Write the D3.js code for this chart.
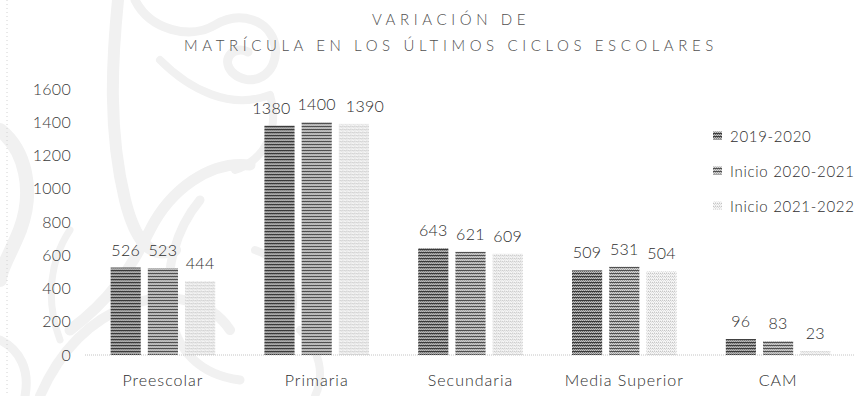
<!DOCTYPE html>
<html>
<head>
<meta charset="utf-8">
<script src="https://cdn.jsdelivr.net/npm/d3@7"></script>
<style>
  html, body { margin: 0; padding: 0; background: #fff; }
  svg { display: block; }
  text { font-family: Lato, "Noto Sans", sans-serif; font-weight: 300; fill: #2e2e2e; }
</style>
</head>
<body>
<svg id="chart" width="863" height="396"></svg>
<script>
// Enrolment per school level, three school years
const categories = ["Preescolar", "Primaria", "Secundaria", "Media Superior", "CAM"];
const seriesNames = ["2019-2020", "Inicio 2020-2021", "Inicio 2021-2022"];
const values2019 = [526, 1380, 643, 509, 96];
const values2020 = [523, 1400, 621, 531, 83];
const values2021 = [444, 1390, 609, 504, 23];
const yTicks = [0, 200, 400, 600, 800, 1000, 1200, 1400, 1600];
const titleLines = ["VARIACIÓN DE", "MATRÍCULA EN LOS ÚLTIMOS CICLOS ESCOLARES"];

const seriesValues = [values2019, values2020, values2021];

const W = 863, H = 396;
const margin = { left: 86, right: 8, top: 89, bottom: 41 };
const svg = d3.select("#chart");
const defs = svg.append("defs");

// Hatched fills: horizontal line textures, darkest to lightest
function stripePattern(id, rows) {
  const p = defs.append("pattern")
    .attr("id", id).attr("patternUnits", "userSpaceOnUse")
    .attr("width", 4).attr("height", rows.length);
  rows.forEach((r, i) => {
    r.forEach((c, j) => {
      if (c) p.append("rect").attr("x", j).attr("y", i).attr("width", 1).attr("height", 1).attr("fill", c);
    });
  });
}
stripePattern("pat0", [
  ["#3a3a3a", "#3a3a3a", "#3a3a3a", "#3a3a3a"],
  ["#6a6a6a", "#b5b5b5", "#6a6a6a", "#b5b5b5"],
  ["#c8c8c8", "#888", "#c8c8c8", "#888"]
]);
stripePattern("pat1", [
  ["#505050", "#505050", "#505050", "#505050"],
  ["#9a9a9a", "#d0d0d0", "#9a9a9a", "#d0d0d0"],
  ["#d8d8d8", "#a0a0a0", "#d8d8d8", "#a0a0a0"]
]);
stripePattern("pat2", [
  ["#c4c4c4", "#ececec", "#cccccc", "#eeeeee"],
  ["#f6f6f6", "#d8d8d8", "#f8f8f8", "#e2e2e2"],
  ["#eeeeee", "#fafafa", "#dcdcdc", "#f7f7f7"]
]);

// Faint acanthus scroll ornament on the left
const orn = svg.append("g").attr("fill", "none").attr("stroke", "#f1f1f1")
  .attr("stroke-linecap", "round").attr("stroke-linejoin", "round");
[
  ["M118,0 C112,60 108,130 125,200 C135,240 150,260 175,250", 12],
  ["M135,0 C150,30 190,40 215,25 C240,10 270,20 275,45 C280,75 250,90 232,72 C220,58 235,45 248,52", 9],
  ["M160,60 C190,90 230,110 270,95 C280,130 265,160 235,170", 8],
  ["M250,165 C210,160 170,190 150,230 C130,270 110,300 70,330", 11],
  ["M200,200 C175,230 165,270 170,310 C175,350 200,375 240,380", 9],
  ["M40,396 C60,350 90,320 130,305 C170,290 210,300 230,330", 10],
  ["M0,130 C25,150 35,190 20,230 C10,255 0,270 0,280", 14],
  ["M255,250 C285,260 300,290 290,320", 8],
  ["M300,330 C320,350 325,375 315,396", 8],
  ["M70,230 C50,260 45,300 60,340", 7],
  ["M0,340 C20,350 30,370 25,396", 9]
].forEach(([d, w]) => orn.append("path").attr("d", d).attr("stroke-width", w));

// Dotted border line at the left edge
svg.append("line").attr("x1", 7).attr("x2", 7).attr("y1", 0).attr("y2", H)
  .attr("stroke", "#d2d2d2").attr("stroke-dasharray", "1,3");

const x0 = d3.scaleBand().domain(categories)
  .range([margin.left, W - margin.right]).paddingInner(0.32).paddingOuter(0.16);
const x1 = d3.scaleBand().domain(d3.range(seriesNames.length))
  .range([0, x0.bandwidth()]).paddingInner(0.19);
const y = d3.scaleLinear().domain([0, 1600]).range([H - margin.bottom, margin.top]);

// Title
svg.append("g").selectAll("text").data(titleLines).join("text")
  .attr("x", 451).attr("y", (d, i) => 25 + i * 26)
  .attr("text-anchor", "middle")
  .style("font-size", "15px").style("letter-spacing", "4.6px")
  .style("fill", "#505050")
  .text(d => d);

// Y axis labels
const yAxis = d3.axisLeft(y).tickValues(yTicks).tickFormat(d3.format("d")).tickSize(0).tickPadding(0);
const yg = svg.append("g").attr("transform", "translate(71,0)").call(yAxis);
yg.select(".domain").remove();
yg.selectAll("text").style("font-size", "16px").style("fill", "#3a3a3a")
  .style("font-family", "Lato, sans-serif").style("letter-spacing", "0.3px");

// Bars
const rowsFor = c => {
  const ci = categories.indexOf(c);
  return seriesValues.map((vals, si) => ({ si, v: vals[ci] }));
};
const groups = svg.append("g").selectAll("g").data(categories).join("g")
  .attr("transform", d => `translate(${x0(d)},0)`);
groups.selectAll("rect")
  .data(rowsFor)
  .join("rect")
  .attr("x", d => x1(d.si))
  .attr("width", x1.bandwidth())
  .attr("y", d => y(d.v))
  .attr("height", d => y(0) - y(d.v))
  .attr("fill", d => `url(#pat${d.si})`);

// Value labels, nudged apart sideways when neighbours would touch
groups.each(function (c) {
  const labels = d3.select(this).selectAll("text.val")
    .data(rowsFor(c))
    .join("text").attr("class", "val")
    .attr("x", d => x1(d.si) + x1.bandwidth() / 2)
    .attr("y", d => y(d.v) - 12)
    .attr("text-anchor", "middle")
    .style("font-size", "16px").style("letter-spacing", "0.3px")
    .text(d => d.v);
  const nodes = labels.nodes();
  const w = nodes.map(n => n.getComputedTextLength());
  const cx = nodes.map((n, i) => x1(i) + x1.bandwidth() / 2);
  const minGap = 7;
  const gapL = (cx[1] - w[1] / 2) - (cx[0] + w[0] / 2);
  if (gapL < minGap) cx[0] -= (minGap - gapL);
  const gapR = (cx[2] - w[2] / 2) - (cx[1] + w[1] / 2);
  if (gapR < minGap) cx[2] += (minGap - gapR) + 3;
  labels.attr("x", (d, i) => cx[i]);
});

// Category axis
const xAxis = d3.axisBottom(x0).tickSize(0).tickPadding(20);
const xg = svg.append("g").attr("transform", `translate(0,${y(0)})`).call(xAxis);
xg.select(".domain").attr("stroke", "#c4c4c4").attr("stroke-dasharray", "1,1")
  .attr("d", `M${margin.left - 1},0H${W - margin.right}`);
xg.selectAll("text").style("font-size", "16px").style("fill", "#2e2e2e")
  .style("font-family", "Lato, sans-serif").style("letter-spacing", "1px");

// Legend
const legend = svg.append("g").selectAll("g").data(seriesNames).join("g")
  .attr("transform", (d, i) => `translate(713,${136 + i * 35})`);
legend.append("rect").attr("x", 0).attr("y", -4.5).attr("width", 9).attr("height", 8)
  .attr("fill", (d, i) => `url(#pat${i})`);
legend.append("text").attr("x", 17).attr("y", 5.5)
  .style("font-size", "15px").style("letter-spacing", "0.7px")
  .text(d => d);
</script>
</body>
</html>
